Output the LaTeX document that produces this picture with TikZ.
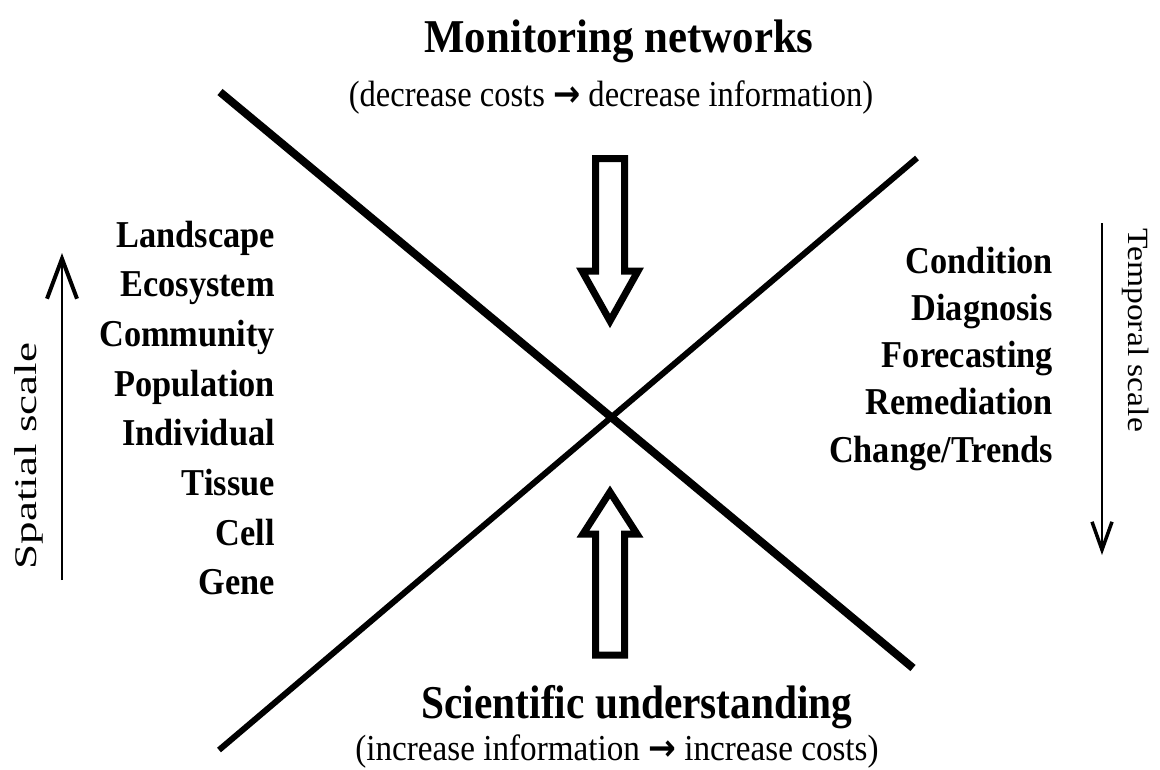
\documentclass[tikz,border=0pt]{standalone}
\usepackage{fontspec}
\usepackage{graphicx}
\setmainfont{Liberation Serif}
\newfontfamily\arrowfont{DejaVu Sans}
\usetikzlibrary{arrows.meta}
\newcommand{\lblbox}[1]{\scalebox{1.04}[1.15]{#1}}
\newcommand{\ttlbox}[2]{\scalebox{#1}[1.12]{#2}}
\newcommand{\subbox}[2]{\scalebox{#1}[1.18]{#2}}
\newcommand{\rarr}{{\arrowfont\bfseries →}}
\begin{document}
\begin{tikzpicture}[x=1pt,y=-1pt,
  lbl/.style={font=\fontsize{33}{33}\selectfont\bfseries, anchor=base east, inner sep=0pt},
  ttl/.style={font=\fontsize{42}{42}\selectfont\bfseries, anchor=base, inner sep=0pt},
  sub/.style={font=\fontsize{31}{31}\selectfont, anchor=base, inner sep=0pt},
  bigarrow/.style={draw=black, line width=7pt, line join=miter, fill=white},
  crossthick/.style={line width=8pt},
  crossthin/.style={line width=6pt},
  scalearrow/.style={line width=2.5pt},
  sideword/.style={inner sep=0pt, anchor=base},
]
\useasboundingbox (0,0) rectangle (1160,769);

% crossing lines
\coordinate (l1a) at (220,92);
\coordinate (l1b) at (913,668);
\coordinate (l2a) at (917,158);
\coordinate (l2b) at (219,750);
\draw[crossthick] (l1a) -- (l1b);
\draw[crossthin] (l2a) -- (l2b);

% titles
\node[ttl] (mon) at (619,52) {\ttlbox{1.02}{Monitoring networks}};
\node[sub] (monsub) at (611,106) {\subbox{1.05}{(decrease costs \rarr{} decrease information)}};
\node[ttl] (sci) at (637,718) {\ttlbox{0.985}{Scientific understanding}};
\node[sub] (scisub) at (617,760) {\subbox{1.07}{(increase information \rarr{} increase costs)}};

% big hollow arrows
\draw[bigarrow] (595.5,158.5) -- (624.5,158.5) -- (624.5,271) -- (638,271)
  -- (610,321) -- (582,271) -- (595.5,271) -- cycle;
\draw[bigarrow] (595.5,655) -- (595.5,534) -- (583,534) -- (610,492)
  -- (637,534) -- (624.5,534) -- (624.5,655) -- cycle;

% left labels
\node[lbl] (land) at (275,247) {\lblbox{Landscape}};
\node[lbl] (eco)  at (275,296.7) {\lblbox{Ecosystem}};
\node[lbl] (comm) at (275,346.4) {\lblbox{Community}};
\node[lbl] (pop)  at (275,396.1) {\lblbox{Population}};
\node[lbl] (ind)  at (275,445.8) {\lblbox{Individual}};
\node[lbl] (tis)  at (275,495.5) {\lblbox{Tissue}};
\node[lbl] (cell) at (275,545.2) {\lblbox{Cell}};
\node[lbl] (gene) at (275,594.9) {\lblbox{Gene}};

% right labels
\node[lbl] (cond) at (1053,273) {\lblbox{Condition}};
\node[lbl] (diag) at (1053,320.3) {\lblbox{Diagnosis}};
\node[lbl] (fore) at (1053,367.6) {\lblbox{Forecasting}};
\node[lbl] (reme) at (1053,414.9) {\lblbox{Remediation}};
\node[lbl] (chan) at (1053,462.2) {\lblbox{Change/Trends}};

% spatial scale
\node[sideword, rotate=90, font=\fontsize{30}{30}\selectfont] (spat) at (36,456)
  {\scalebox{1.5}[1.05]{Spatial scale}};
\coordinate (spb) at (62,580);
\coordinate (spt) at (62,253);
\draw[scalearrow, -{Straight Barb[length=40pt,width=30pt,line width=4pt]}] (spb) -- (spt);

% temporal scale
\node[sideword, rotate=-90, font=\fontsize{28}{28}\selectfont] (temp) at (1128,330)
  {\scalebox{1.2}[1.05]{Temporal scale}};
\coordinate (tpt) at (1102,223);
\coordinate (tpb) at (1102,555);
\draw[scalearrow, -{Straight Barb[length=28pt,width=20pt,line width=3.5pt]}] (tpt) -- (tpb);
\end{tikzpicture}
\end{document}
